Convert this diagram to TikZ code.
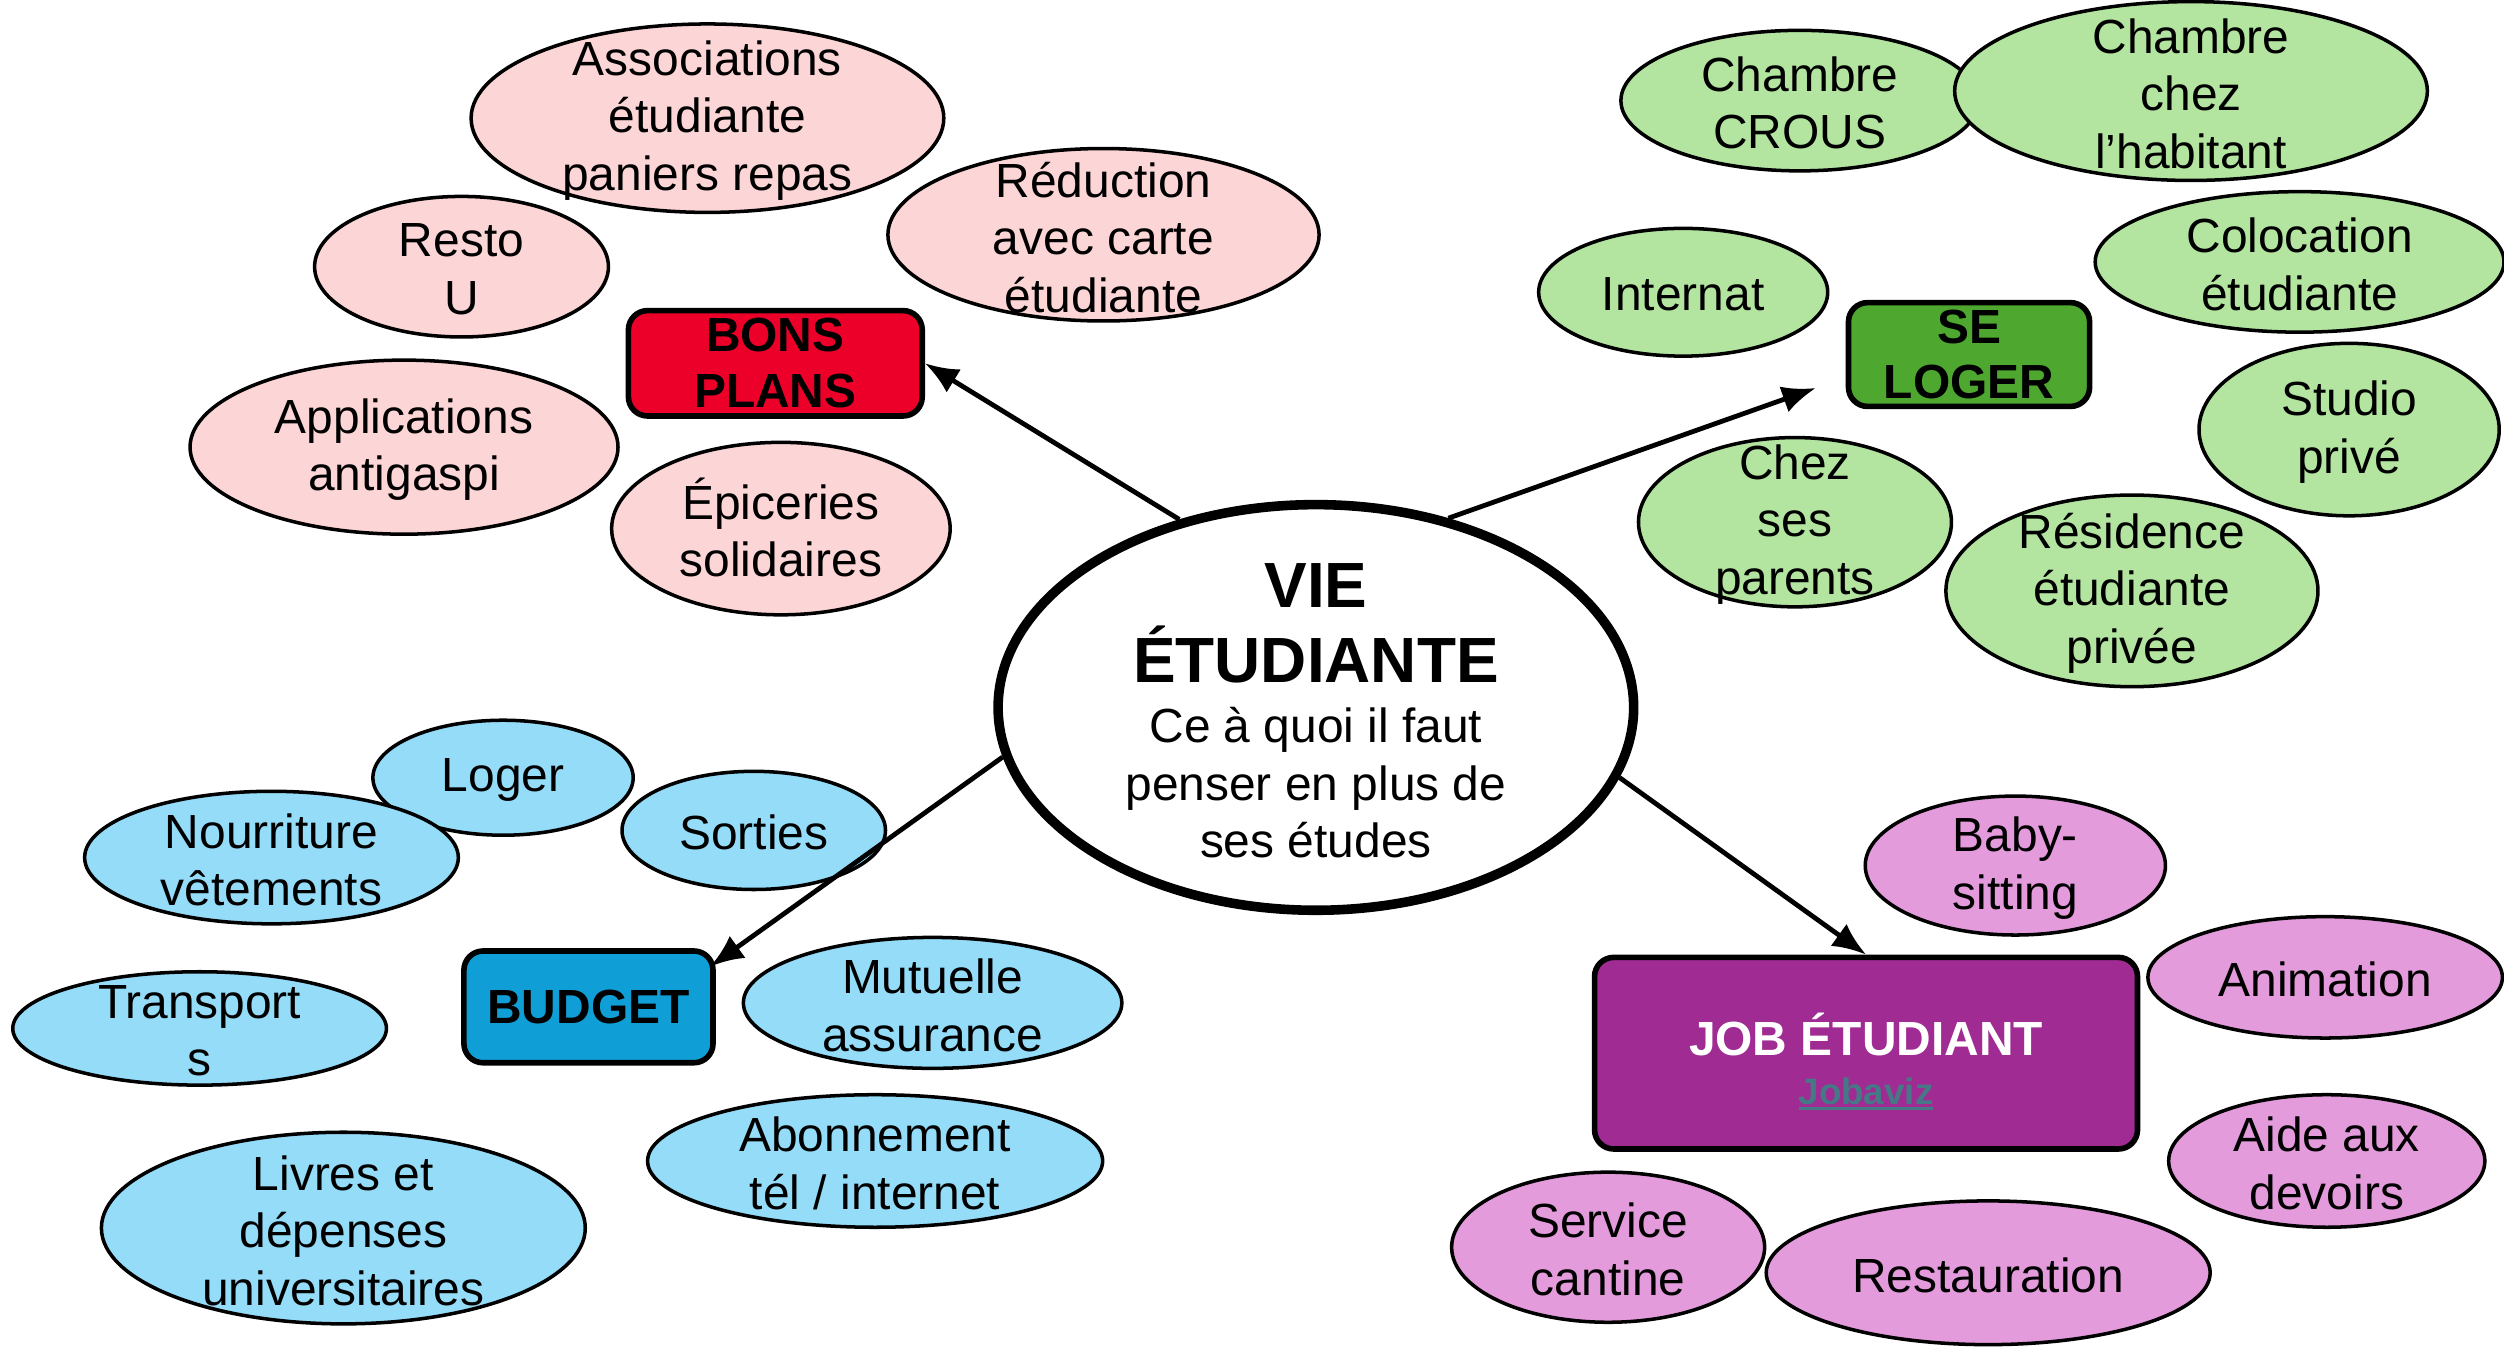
\documentclass[tikz,border=0pt]{standalone}
\usepackage{fontspec}
\setmainfont{Liberation Sans}
\usetikzlibrary{shapes.geometric,arrows.meta}
\definecolor{pinkf}{RGB}{252,213,214}
\definecolor{greenf}{RGB}{179,229,161}
\definecolor{bluef}{RGB}{148,220,248}
\definecolor{purplef}{RGB}{227,155,220}
\definecolor{redbox}{RGB}{236,0,41}
\definecolor{greenbox}{RGB}{78,167,46}
\definecolor{bluebox}{RGB}{16,158,214}
\definecolor{purplebox}{RGB}{160,43,147}
\definecolor{linkc}{RGB}{70,120,134}
\newcommand\myul[1]{\leavevmode\vtop{\hbox{#1}\kern1.2pt\hrule height 1.8pt}}
% bubble: colour, width, height, name, position, text
\newcommand\bub[6]{%
  \node[bubble,fill=#1,bsize={#2}{#3}] (#4) at (#5) {};
  \node[btext] (#4-t) at (#4) {#6};}
\begin{document}
\begin{tikzpicture}[x=1pt,y=-1pt,
  bubble/.style={ellipse,draw=black,line width=2.2pt,inner sep=0pt},
  btext/.style={inner sep=0pt,align=center,yshift=-1.5pt,font=\fontsize{30}{36}\selectfont},
  bsize/.style 2 args={minimum width=#1pt,minimum height=#2pt},
  topic/.style={rectangle,rounded corners=12pt,draw=black,line width=3.5pt,inner sep=0pt,
    align=center,font=\fontsize{30}{35}\selectfont\bfseries},
  link/.style={line width=3pt,-{Latex[length=21pt,width=17pt]}},
]
\fill[white] (0,0) rectangle (1568,843);
\useasboundingbox (0,0) rectangle (1568,843);

% ---- BONS PLANS bubbles (pink)
\bub{pinkf}{296}{118}{assoc}{443,74}{Associations\\étudiante\\paniers repas}
\bub{pinkf}{184}{88}{resto}{289,167}{Resto\\U}
\bub{pinkf}{270}{108}{reduc}{691,147}{Réduction\\avec carte\\étudiante}
\bub{pinkf}{268}{109}{appli}{253,280}{Applications\\antigaspi}
\bub{pinkf}{212}{108}{epic}{489,331}{\smash{É}piceries\\solidaires}

% ---- SE LOGER bubbles (green)
\bub{greenf}{224}{88}{crous}{1127,63}{Chambre\\CROUS}
\bub{greenf}{296}{112}{habit}{1372,57}{Chambre\\chez\\l’habitant}
\bub{greenf}{181}{80}{internat}{1054,183}{Internat}
\bub{greenf}{256}{88}{coloc}{1440,164}{Colocation\\étudiante}
\bub{greenf}{188}{108}{studio}{1471,269}{Studio\\privé}
\bub{greenf}{196}{106}{parents}{1124,327}{Chez\\ses\\parents}
\bub{greenf}{233}{120}{resid}{1335,370}{Résidence\\étudiante\\privée}

% ---- BUDGET bubbles (blue)
\bub{bluef}{163}{72}{loger}{315,487}{Loger}
\bub{bluef}{234}{83}{nourr}{170,537}{Nourriture\\vêtements}
\bub{bluef}{165}{74}{sorties}{472,520}{Sorties}
\bub{bluef}{234}{71}{transp}{125,644}{Transport\\s}
\bub{bluef}{237}{82}{mutu}{584,628}{Mutuelle\\assurance}
\bub{bluef}{285}{83}{abon}{548,727}{Abonnement\\tél / internet}
\bub{bluef}{303}{120}{livres}{215,769}{Livres et\\dépenses\\universitaires}

% ---- JOB bubbles (purple)
\bub{purplef}{188}{87}{baby}{1262,542}{Baby-\\sitting}
\bub{purplef}{222}{76}{anim}{1456,612}{Animation}
\bub{purplef}{198}{83}{aide}{1457,727}{Aide aux\\devoirs}
\bub{purplef}{196}{94}{cant}{1007,781}{Service\\cantine}
\bub{purplef}{278}{90}{resta}{1245,797}{Restauration}

% ---- topic boxes
\node[topic,fill=redbox,minimum width=184pt,minimum height=66pt] (bons) at (485.5,227.5) {BONS\\PLANS};
\node[topic,fill=greenbox,minimum width=151pt,minimum height=65pt] (seloger) at (1233,222) {SE\\LOGER};
\node[topic,fill=bluebox,minimum width=156pt,minimum height=70pt] (budget) at (368.5,630.5) {BUDGET};
\node[topic,fill=purplebox,minimum width=340pt,minimum height=120pt] (job) at (1168.5,659.5) {};
\node[topic,draw=none,text=white] (job-t) at ([yshift=-5pt]job.center)
  {JOB ÉTUDIANT\\[-4pt]{\fontsize{23}{28}\selectfont\color{linkc}\myul{Jobaviz}}};

% ---- central node
\node[ellipse,draw=black,fill=white,line width=6pt,inner sep=0pt,minimum width=398pt,minimum height=254pt] (hub) at (824,443) {};
\node[inner sep=0pt,align=center,font=\fontsize{30}{36}\selectfont] (hub-t) at ([yshift=-2pt]hub.center)
  {{\fontsize{40}{47}\selectfont\bfseries VIE}\\[11pt]{\fontsize{40}{47}\selectfont\bfseries ÉTUDIANTE}\\[2pt]Ce à quoi il faut\\penser en plus de\\ses études};

% ---- connectors
\coordinate (logertip) at (1137,243);
\draw[link] (hub.126) -- (bons.east);
\draw[link] (hub.55) -- (logertip);
\draw[link] (hub.189.5) -- ([xshift=-3.5pt,yshift=-11.5pt]budget.north east);
\draw[link] (hub.-13) -- (job.north);
\end{tikzpicture}
\end{document}
